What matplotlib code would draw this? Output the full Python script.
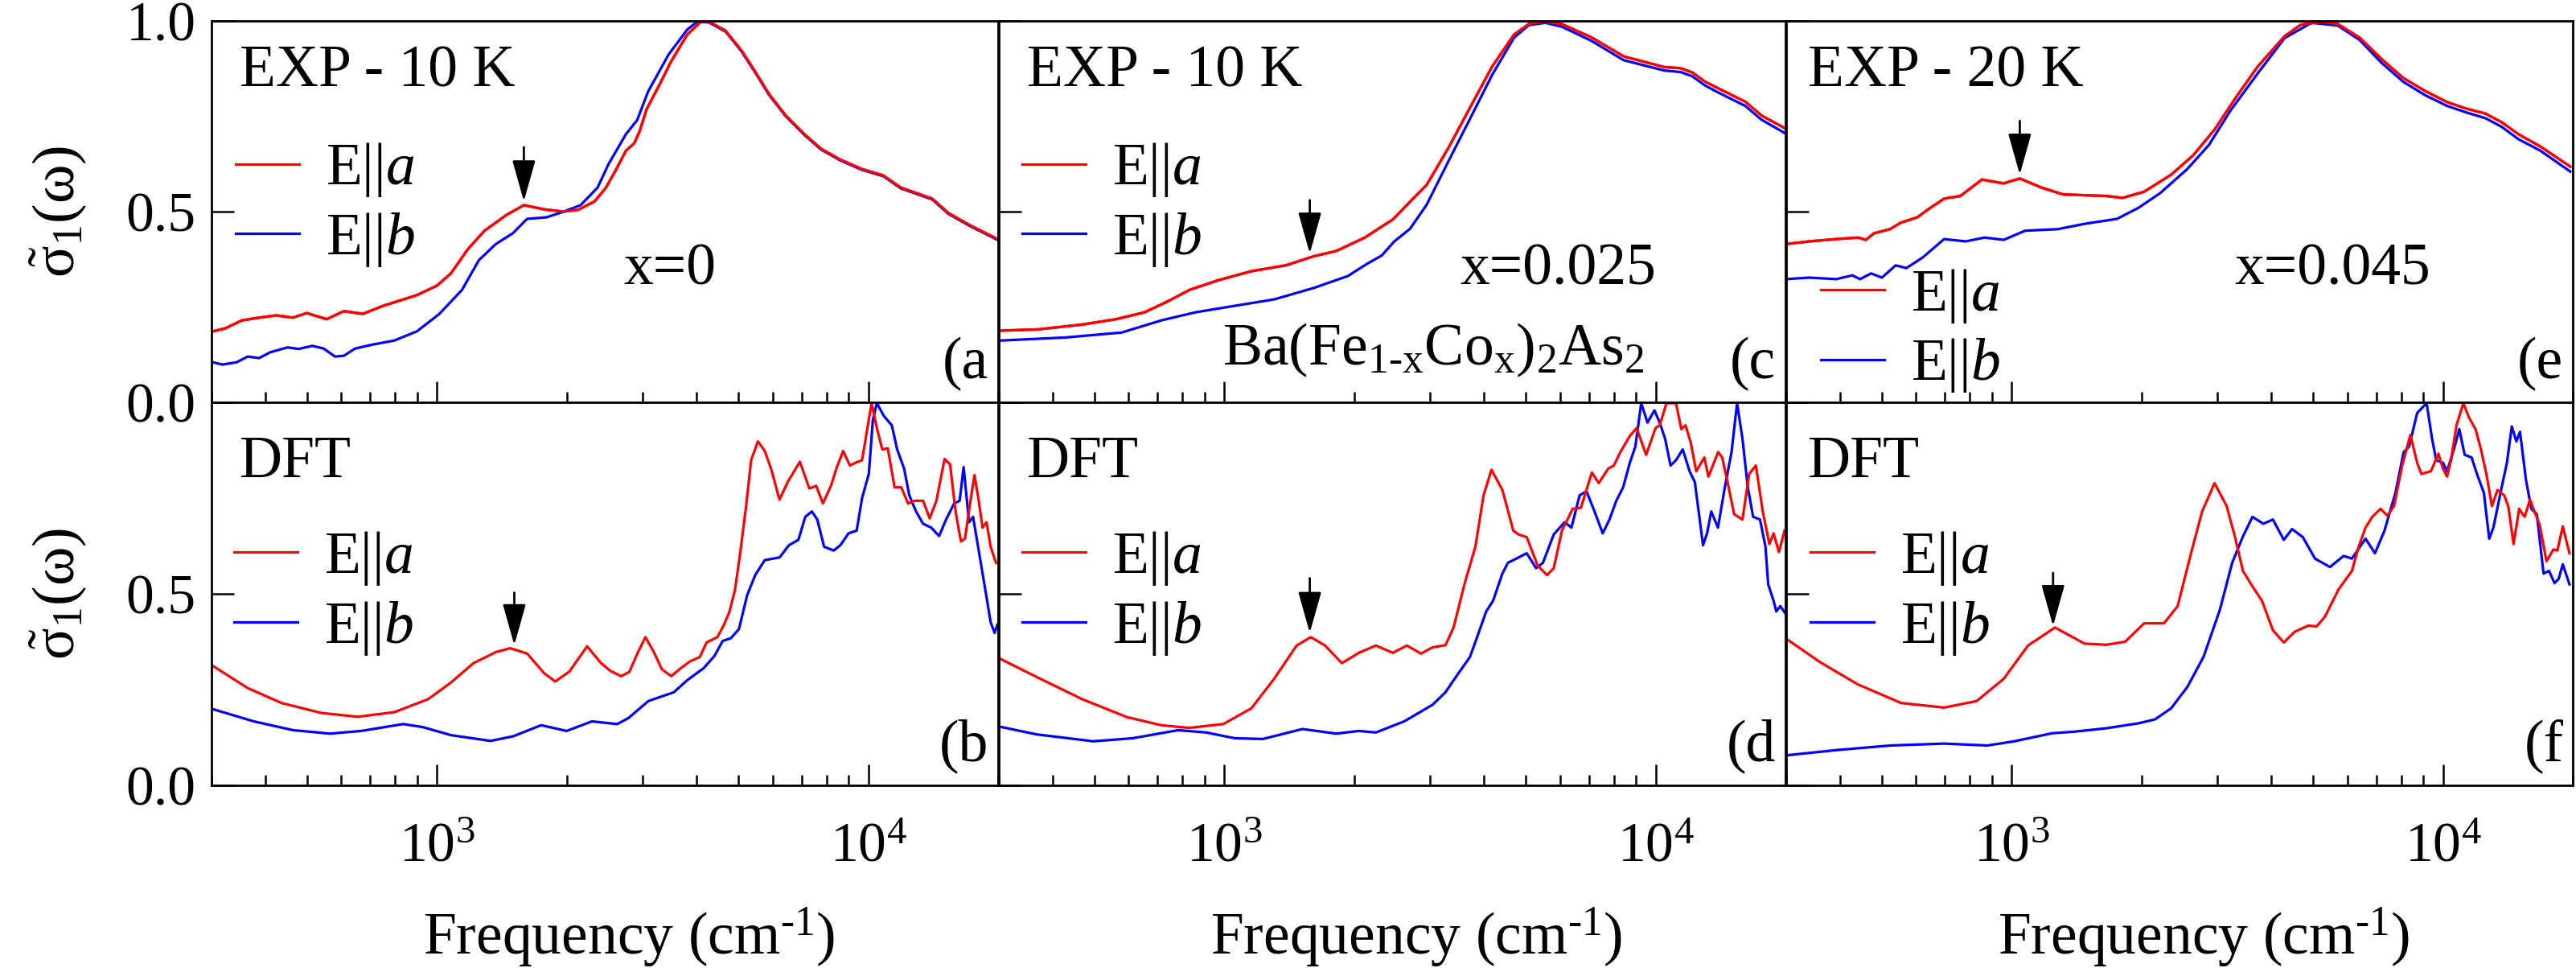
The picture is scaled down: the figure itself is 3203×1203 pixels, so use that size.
"""Ba(Fe1-xCox)2As2: EXP vs DFT 光电导 (E||a, E||b), 3 掺杂 x 六面板图。"""
import matplotlib
matplotlib.use("Agg")
import matplotlib.pyplot as plt
from matplotlib.ticker import LogLocator, NullFormatter

plt.rcParams["font.family"] = ["Liberation Serif", "DejaVu Serif"]
plt.rcParams["mathtext.fontset"] = "custom"
plt.rcParams["mathtext.rm"] = "Liberation Serif"
plt.rcParams["mathtext.it"] = "Liberation Serif:italic"
plt.rcParams["mathtext.bf"] = "Liberation Serif:bold"

RED = "#FF0000"
BLUE = "#0000FF"

# ============ 数据: (频率 cm^-1, 归一化 sigma1) ============
# --- EXP x=0, 10 K ---
EXP0_A_F = [302, 323, 353, 387, 424, 463, 499, 555, 608, 673, 750, 898, 1000, 1077, 1178, 1289,
            1452, 1591, 1771, 1967, 2128, 2321, 2465, 2607, 2743, 2866, 2951, 3061, 3288, 3491,
            3803, 4092, 4274, 4669, 5093, 5481, 5890, 6426, 7113, 7767, 8592, 9646, 10830, 11900,
            14070, 15350, 17230, 19940]
EXP0_A_S = [0.186, 0.194, 0.215, 0.222, 0.228, 0.222, 0.234, 0.218, 0.239, 0.232, 0.253, 0.281,
            0.306, 0.338, 0.401, 0.450, 0.492, 0.517, 0.506, 0.500, 0.505, 0.527, 0.563, 0.612,
            0.660, 0.679, 0.711, 0.768, 0.835, 0.894, 0.964, 0.998, 0.998, 0.974, 0.921, 0.865,
            0.808, 0.753, 0.703, 0.665, 0.637, 0.612, 0.595, 0.563, 0.534, 0.496, 0.464, 0.428]
EXP0_B_F = [302, 318, 343, 364, 387, 410, 450, 478, 514, 546, 580, 608, 646, 706, 796, 898, 1013,
            1143, 1251, 1369, 1498, 1618, 1793, 1967, 2153, 2357, 2500, 2742, 2912, 3087, 3241,
            3444, 3803, 4010, 4274, 4669, 5093, 5481, 5890, 6426, 7113, 7767, 8592, 9646, 10830,
            11900, 14070, 15350, 17230, 19940]
EXP0_B_S = [0.105, 0.099, 0.105, 0.120, 0.116, 0.131, 0.144, 0.140, 0.148, 0.141, 0.120, 0.122,
            0.141, 0.151, 0.162, 0.186, 0.232, 0.295, 0.373, 0.415, 0.443, 0.481, 0.485, 0.500,
            0.517, 0.563, 0.625, 0.703, 0.740, 0.815, 0.858, 0.912, 0.977, 0.998, 0.996, 0.972,
            0.919, 0.863, 0.806, 0.751, 0.701, 0.663, 0.635, 0.610, 0.593, 0.561, 0.532, 0.494,
            0.462, 0.426]

# --- EXP x=0.025, 10 K ---
EXP025_A_F = [303, 368, 469, 561, 653, 737, 831, 967, 1157, 1387, 1613, 1820, 2117, 2462, 2777,
              2945, 3311, 3718, 4176, 4695, 5082, 5548, 6055, 7094, 8434, 10470, 11420, 12160,
              13010, 13990, 16150, 17600, 20000]
EXP025_A_S = [0.188, 0.191, 0.204, 0.218, 0.236, 0.264, 0.295, 0.320, 0.344, 0.359, 0.383, 0.397,
              0.432, 0.480, 0.541, 0.570, 0.668, 0.774, 0.880, 0.964, 0.992, 0.999, 0.992, 0.957,
              0.907, 0.879, 0.876, 0.865, 0.841, 0.823, 0.788, 0.752, 0.718]
EXP025_B_F = [303, 428, 578, 715, 857, 1057, 1306, 1613, 1933, 2141, 2317, 2478, 2695, 2945, 3311,
              3718, 4176, 4695, 5082, 5548, 6055, 7094, 8434, 10470, 11420, 12160, 13010, 13990,
              16150, 17600, 20000]
EXP025_B_S = [0.162, 0.170, 0.183, 0.215, 0.236, 0.253, 0.270, 0.300, 0.331, 0.363, 0.385, 0.422,
              0.455, 0.518, 0.633, 0.745, 0.858, 0.956, 0.989, 0.995, 0.985, 0.948, 0.897, 0.870,
              0.866, 0.855, 0.831, 0.812, 0.777, 0.741, 0.705]

# --- EXP x=0.045, 20 K ---
EXP045_A_F = [300, 339, 392, 440, 459, 479, 522, 553, 604, 640, 697, 760, 853, 958, 1044, 1172,
              1316, 1657, 1807, 2027, 2343, 2632, 2953, 3313, 3717, 4293, 4681, 5251, 5700, 6410,
              7206, 8098, 9102, 10230, 11330, 12550, 13700, 14960, 16810, 19740]
EXP045_A_S = [0.415, 0.422, 0.428, 0.432, 0.426, 0.443, 0.454, 0.471, 0.485, 0.506, 0.534, 0.541,
              0.584, 0.574, 0.587, 0.563, 0.545, 0.541, 0.536, 0.552, 0.597, 0.647, 0.715, 0.800,
              0.880, 0.960, 0.990, 0.998, 0.992, 0.956, 0.900, 0.850, 0.816, 0.787, 0.770, 0.757,
              0.734, 0.703, 0.671, 0.618]
EXP045_B_F = [300, 339, 392, 427, 445, 472, 500, 538, 570, 622, 697, 782, 865, 958, 1075, 1278,
              1477, 1754, 1968, 2212, 2555, 2867, 3216, 3717, 4293, 4955, 5700, 6410, 7206, 8098,
              9102, 10230, 11330, 12550, 13700, 14960, 16810, 19740]
EXP045_B_S = [0.323, 0.327, 0.323, 0.333, 0.323, 0.338, 0.327, 0.359, 0.352, 0.380, 0.428, 0.422,
              0.432, 0.426, 0.450, 0.454, 0.468, 0.481, 0.510, 0.549, 0.612, 0.675, 0.765, 0.862,
              0.955, 0.995, 0.988, 0.950, 0.890, 0.840, 0.805, 0.777, 0.760, 0.745, 0.722, 0.690,
              0.660, 0.605]

# --- DFT x=0 ---
DFT0_A_F = [302, 364, 436, 539, 655, 796, 954, 1076, 1215, 1370, 1479, 1619, 1771, 1880, 2027,
            2229, 2397, 2522, 2672, 2792, 2917, 3043, 3180, 3322, 3493, 3676, 3866, 4067, 4218,
            4469, 4628, 4768, 4910, 5051, 5200, 5351, 5548, 5754, 5962, 6226, 6505, 6941, 7302,
            7573, 7849, 8195, 8434, 8745, 9068, 9330, 9675, 10180, 10470, 10780, 11100, 11510,
            11930, 12370, 12830, 13400, 13880, 14390, 15030, 15480, 15940, 16400, 16760, 17260,
            17630, 18000, 18410, 18810, 19220, 19780]
DFT0_A_S = [0.312, 0.254, 0.215, 0.189, 0.179, 0.191, 0.225, 0.268, 0.319, 0.348, 0.358, 0.344,
            0.293, 0.271, 0.297, 0.363, 0.320, 0.299, 0.285, 0.296, 0.345, 0.387, 0.349, 0.303,
            0.285, 0.306, 0.324, 0.335, 0.373, 0.387, 0.419, 0.454, 0.511, 0.609, 0.722, 0.849,
            0.898, 0.873, 0.824, 0.746, 0.792, 0.845, 0.775, 0.782, 0.736, 0.782, 0.827, 0.873,
            0.835, 0.842, 0.849, 0.998, 0.933, 0.877, 0.880, 0.778, 0.778, 0.736, 0.743, 0.743,
            0.697, 0.743, 0.852, 0.838, 0.715, 0.637, 0.644, 0.743, 0.810, 0.750, 0.673, 0.687,
            0.623, 0.581]
DFT0_B_F = [302, 376, 464, 565, 667, 835, 927, 1078, 1331, 1501, 1744, 1998, 2287, 2619, 2782,
            3090, 3540, 3809, 4154, 4400, 4596, 4800, 5014, 5237, 5469, 5754, 6226, 6549, 6887,
            7144, 7400, 7618, 7900, 8317, 8617, 9002, 9400, 9675, 10030, 10250, 10470, 10860,
            11340, 11670, 12110, 12450, 12910, 13400, 13990, 14600, 15150, 15820, 16290, 16640,
            17130, 17500, 18150, 18680, 19220, 19640, 19920]
DFT0_B_S = [0.199, 0.167, 0.144, 0.135, 0.142, 0.160, 0.152, 0.131, 0.116, 0.128, 0.157, 0.142,
            0.167, 0.160, 0.176, 0.220, 0.243, 0.275, 0.306, 0.338, 0.377, 0.384, 0.408, 0.496,
            0.549, 0.588, 0.595, 0.627, 0.641, 0.701, 0.715, 0.694, 0.623, 0.613, 0.627, 0.658,
            0.665, 0.750, 0.813, 0.954, 0.998, 0.965, 0.940, 0.877, 0.827, 0.757, 0.715, 0.683,
            0.673, 0.651, 0.694, 0.736, 0.743, 0.831, 0.687, 0.701, 0.595, 0.511, 0.426, 0.398,
            0.419]

# --- DFT x=0.025 ---
DFT025_A_F = [299, 367, 468, 595, 714, 829, 994, 1155, 1304, 1471, 1587, 1712, 1873, 2051, 2246,
              2459, 2650, 2857, 3036, 3256, 3400, 3603, 3820, 3990, 4163, 4413, 4677, 4812, 5026,
              5324, 5600, 5805, 6064, 6424, 6713, 7116, 7383, 7765, 7998, 8285, 8713, 9036, 9506,
              10000, 10220, 10600, 11150, 11470, 11730, 12070, 12420, 12970, 13260, 13960, 14270,
              14680, 15210, 15900, 16480, 17080, 17720, 18360, 18770, 19320, 19910]
DFT025_A_S = [0.333, 0.283, 0.225, 0.178, 0.157, 0.150, 0.160, 0.201, 0.278, 0.365, 0.387, 0.365,
              0.319, 0.346, 0.365, 0.346, 0.365, 0.344, 0.360, 0.366, 0.412, 0.525, 0.623, 0.757,
              0.824, 0.771, 0.665, 0.655, 0.648, 0.574, 0.549, 0.567, 0.665, 0.722, 0.725, 0.817,
              0.789, 0.827, 0.835, 0.870, 0.912, 0.933, 0.863, 0.933, 0.940, 0.998, 0.998, 0.930,
              0.940, 0.894, 0.820, 0.856, 0.806, 0.870, 0.856, 0.792, 0.708, 0.694, 0.813, 0.835,
              0.715, 0.630, 0.658, 0.609, 0.665]
DFT025_B_F = [299, 367, 497, 613, 781, 908, 1056, 1228, 1517, 1818, 2051, 2246, 2612, 3036, 3256,
              3452, 3710, 3847, 4047, 4199, 4413, 4545, 4812, 5026, 5282, 5479, 5805, 6150, 6380,
              6665, 6914, 7217, 7540, 7815, 8107, 8407, 8713, 8973, 9261, 9575, 9938, 10220,
              10520, 10830, 11150, 11560, 11990, 12330, 12880, 13160, 13460, 13950, 14470, 15000,
              15450, 15900, 16360, 16830, 17460, 17980, 18240, 18770, 19050, 19460, 20050]
DFT025_B_S = [0.154, 0.133, 0.115, 0.123, 0.144, 0.138, 0.123, 0.121, 0.147, 0.135, 0.142, 0.138,
              0.167, 0.210, 0.243, 0.285, 0.335, 0.384, 0.454, 0.482, 0.553, 0.581, 0.595, 0.606,
              0.567, 0.581, 0.655, 0.687, 0.673, 0.757, 0.768, 0.715, 0.658, 0.694, 0.743, 0.778,
              0.842, 0.884, 0.998, 0.947, 0.979, 0.947, 0.905, 0.835, 0.849, 0.877, 0.820, 0.792,
              0.627, 0.658, 0.715, 0.673, 0.778, 0.870, 0.998, 0.905, 0.778, 0.701, 0.694, 0.623,
              0.525, 0.482, 0.454, 0.468, 0.447]

# --- DFT x=0.045 ---
DFT045_A_F = [298, 359, 439, 554, 697, 829, 958, 1091, 1260, 1476, 1656, 1833, 2028, 2254, 2425,
              2609, 2764, 2953, 3151, 3290, 3437, 3590, 3804, 4033, 4275, 4531, 4873, 5093, 5322,
              5723, 6150, 6375, 6614, 6858, 7166, 7430, 7700, 8042, 8405, 8713, 8912, 9377, 9758,
              10000, 10220, 10440, 10750, 11150, 11480, 11900, 12250, 12610, 12990, 13380, 13870,
              14170, 14580, 15020, 15470, 15920, 16390, 16760, 17380, 18040, 18420, 18960, 19650]
DFT045_A_S = [0.385, 0.322, 0.264, 0.215, 0.203, 0.220, 0.278, 0.365, 0.412, 0.370, 0.367, 0.375,
              0.423, 0.423, 0.468, 0.609, 0.715, 0.789, 0.729, 0.651, 0.560, 0.525, 0.482, 0.405,
              0.373, 0.401, 0.417, 0.415, 0.440, 0.511, 0.560, 0.623, 0.673, 0.701, 0.722, 0.704,
              0.729, 0.835, 0.915, 0.842, 0.813, 0.820, 0.866, 0.827, 0.806, 0.849, 0.940, 0.998,
              0.961, 0.930, 0.877, 0.813, 0.729, 0.771, 0.757, 0.729, 0.630, 0.722, 0.701, 0.746,
              0.708, 0.680, 0.585, 0.616, 0.613, 0.676, 0.606]
DFT045_B_F = [298, 392, 523, 697, 878, 1014, 1241, 1393, 1656, 1968, 2147, 2342, 2555, 2786, 3038,
              3245, 3437, 3616, 3834, 4033, 4275, 4467, 4733, 5050, 5469, 5885, 6150, 6614, 6955,
              7318, 7760, 8107, 8342, 8713, 9164, 9434, 9646, 10000, 10220, 10600, 10910, 11230,
              11650, 11990, 12440, 12800, 13090, 13680, 14070, 14440, 14800, 15090, 15570, 16030,
              16510, 17110, 17620, 18140, 18550, 18960, 19650]
DFT045_B_S = [0.078, 0.092, 0.104, 0.109, 0.104, 0.115, 0.136, 0.140, 0.149, 0.162, 0.172, 0.201,
              0.257, 0.336, 0.458, 0.581, 0.650, 0.701, 0.683, 0.694, 0.641, 0.669, 0.648, 0.592,
              0.570, 0.599, 0.592, 0.644, 0.606, 0.665, 0.764, 0.870, 0.884, 0.972, 0.998, 0.905,
              0.849, 0.842, 0.820, 0.877, 0.930, 0.863, 0.856, 0.813, 0.764, 0.644, 0.673, 0.778,
              0.842, 0.937, 0.898, 0.923, 0.799, 0.722, 0.708, 0.553, 0.560, 0.528, 0.539, 0.577,
              0.525]

TOP_DATA = [(EXP0_A_F, EXP0_A_S, EXP0_B_F, EXP0_B_S),
            (EXP025_A_F, EXP025_A_S, EXP025_B_F, EXP025_B_S),
            (EXP045_A_F, EXP045_A_S, EXP045_B_F, EXP045_B_S)]
BOT_DATA = [(DFT0_A_F, DFT0_A_S, DFT0_B_F, DFT0_B_S),
            (DFT025_A_F, DFT025_A_S, DFT025_B_F, DFT025_B_S),
            (DFT045_A_F, DFT045_A_S, DFT045_B_F, DFT045_B_S)]

TOP_TITLES = ["EXP - 10 K", "EXP - 10 K", "EXP - 20 K"]
DOPING = ["x=0", "x=0.025", "x=0.045"]
TOP_TAGS = ["(a", "(c", "(e"]
BOT_TAGS = ["(b", "(d", "(f"]
# 箭头: (频率, 箭尾, 箭头尖)
TOP_ARROWS = [(1590, 0.669, 0.527), (1578, 0.530, 0.390), (1044, 0.738, 0.597)]
BOT_ARROWS = [(1511, 0.503, 0.366), (1578, 0.541, 0.398), (1247, 0.555, 0.416)]

XMIN, XMAX = 300, 20000
W, H = 3203, 1203
LEFTS = [263, 1242, 2221]
PW = 978
TOP_Y0, MID_Y, BOT_Y1 = 26, 500, 976   # 像素行: 上框顶, 分界, 下框底
FS = 53
FS_TICK = 50
YLABEL = r"$\tilde{\mathrm{\sigma}}_\mathrm{1}(\mathrm{\omega})$"

fig = plt.figure(figsize=(W / 100, H / 100), dpi=100)


def style_axes(ax, ylabels):
    ax.set_xscale("log")
    ax.set_xlim(XMIN, XMAX)
    ax.set_ylim(0, 1.0)
    for sp in ax.spines.values():
        sp.set_linewidth(2.0)
    ax.xaxis.set_major_locator(LogLocator(base=10, numticks=10))
    ax.xaxis.set_minor_locator(LogLocator(base=10, subs=range(2, 10), numticks=20))
    ax.xaxis.set_minor_formatter(NullFormatter())
    ax.tick_params(axis="x", which="major", direction="in", length=19, width=1.8,
                   top=False, labelsize=FS_TICK, pad=33)
    ax.tick_params(axis="x", which="minor", direction="in", length=9.5, width=1.8, top=False)
    ax.set_yticks([0, 0.5, 1.0])
    ax.tick_params(axis="y", direction="in", length=20, width=1.8, right=False,
                   labelsize=FS_TICK, pad=14)
    if ylabels is None:
        ax.set_yticklabels([])
    else:
        ax.set_yticklabels(ylabels)


def add_legend(ax, la, lb, x, y):
    ax.legend([la, lb], [r"E||$a$", r"E||$b$"], loc="upper left",
              bbox_to_anchor=(x, y), frameon=False, fontsize=FS, handlelength=1.07,
              handletextpad=0.45, labelspacing=0.2, borderpad=0, borderaxespad=0)


def add_arrow(ax, f, y0, y1):
    ax.annotate("", xy=(f, y1), xytext=(f, y0),
                arrowprops=dict(arrowstyle="-|>,head_length=3.2,head_width=0.9",
                                color="black", lw=2, shrinkA=0, shrinkB=0, mutation_scale=10))


for i, l in enumerate(LEFTS):
    # ---- 上: 实验 ----
    ax = fig.add_axes([l / W, (H - MID_Y) / H, PW / W, (MID_Y - TOP_Y0) / H])
    fa, sa, fb, sb = TOP_DATA[i]
    la, = ax.plot(fa, sa, color=RED, lw=2.3)
    lb, = ax.plot(fb, sb, color=BLUE, lw=2.3)
    ax.plot(fa, sa, color=RED, lw=2.3)  # 红线在上
    style_axes(ax, ["0.0", "0.5", "1.0"] if i == 0 else None)
    ax.tick_params(axis="x", which="both", labelbottom=False)
    ax.text(0.036 if i < 2 else 0.028, 0.829, TOP_TITLES[i], transform=ax.transAxes,
            fontsize=FS, va="baseline", ha="left")
    ax.text([0.524, 0.586, 0.570][i], 0.310, DOPING[i], transform=ax.transAxes,
            fontsize=FS, va="baseline", ha="left")
    ax.text(0.988, 0.063, TOP_TAGS[i], transform=ax.transAxes, fontsize=FS,
            va="baseline", ha="right")
    if i == 1:
        ax.text(0.284, 0.099,
                r"Ba(Fe$_\mathregular{1\text{-}x}$Co$_\mathregular{x}$)$_\mathregular{2}$"
                r"As$_\mathregular{2}$",
                transform=ax.transAxes, fontsize=FS, va="baseline", ha="left")
    add_legend(ax, la, lb, [0.031, 0.030, 0.044][i], 0.685 if i < 2 else 0.355)
    add_arrow(ax, *TOP_ARROWS[i])

    # ---- 下: DFT ----
    ax = fig.add_axes([l / W, (H - BOT_Y1) / H, PW / W, (BOT_Y1 - MID_Y) / H])
    fa, sa, fb, sb = BOT_DATA[i]
    lb, = ax.plot(fb, sb, color=BLUE, lw=2.3)
    la, = ax.plot(fa, sa, color=RED, lw=2.3)
    style_axes(ax, ["0.0", "0.5", ""] if i == 0 else None)
    ax.text(0.036 if i < 2 else 0.028, 0.804, "DFT", transform=ax.transAxes,
            fontsize=FS, va="baseline", ha="left")
    ax.text(0.988, 0.065, BOT_TAGS[i], transform=ax.transAxes, fontsize=FS,
            va="baseline", ha="right")
    add_legend(ax, la, lb, [0.029, 0.030, 0.031][i], 0.668)
    add_arrow(ax, *BOT_ARROWS[i])
    ax.set_xlabel(r"Frequency (cm$^{\text{-}1}$)", fontsize=FS)
    ax.xaxis.set_label_coords(0.531, -0.442)
    ax.xaxis.label.set_va("baseline")

# y 轴标签
for yc in [(TOP_Y0 + MID_Y) / 2, (MID_Y + BOT_Y1) / 2]:
    fig.text(72 / W, 1 - yc / H, YLABEL, rotation=90, ha="center", va="center", fontsize=FS)

fig.savefig("out.png", dpi=100)
